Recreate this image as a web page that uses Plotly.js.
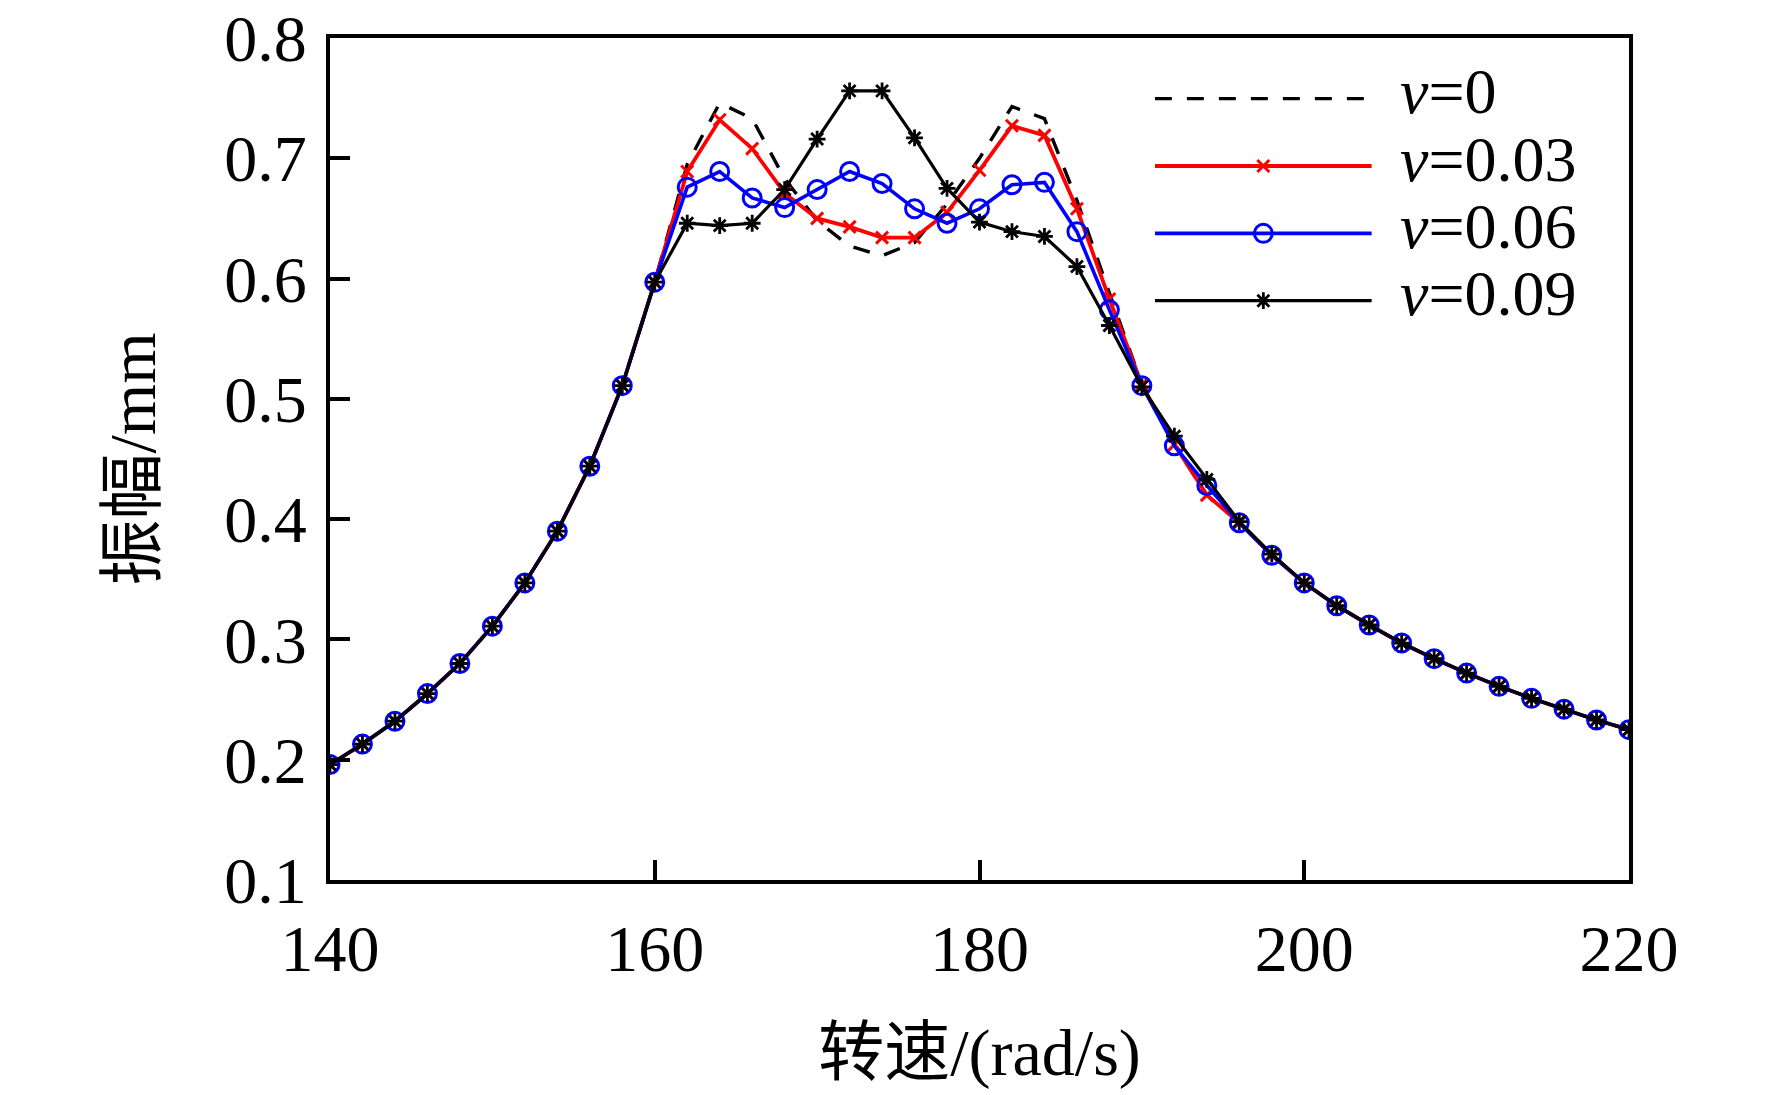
<!DOCTYPE html>
<html>
<head>
<meta charset="utf-8">
<script src="https://cdn.plot.ly/plotly-3.0.1.min.js"></script>
<style>
html,body{margin:0;padding:0;background:#fff;}
#chart{width:1772px;height:1095px;}
</style>
</head>
<body>
<div id="chart"></div>
<script>
// ---- data ----
const speed = [140,142,144,146,148,150,152,154,156,158,160,162,164,166,168,170,172,174,176,178,180,182,184,186,188,190,192,194,196,198,200,202,204,206,208,210,212,214,216,218,220];

const amp_v0 = [0.196,0.213,0.232,0.255,0.280,0.311,0.347,0.390,0.444,0.511,0.597,
  0.695,0.746,0.733,0.683,0.648,0.627,0.619,0.630,0.662,0.700,0.743,0.733,0.665,0.588,0.512,0.462,0.420,
  0.397,0.370,0.347,0.328,0.312,0.297,0.284,0.272,0.261,0.251,0.242,0.233,0.225];

const amp_v003 = [0.196,0.213,0.232,0.255,0.280,0.311,0.347,0.390,0.444,0.511,0.597,
  0.689,0.732,0.708,0.671,0.650,0.643,0.634,0.634,0.655,0.690,0.727,0.719,0.658,0.583,0.512,0.462,0.420,
  0.397,0.370,0.347,0.328,0.312,0.297,0.284,0.272,0.261,0.251,0.242,0.233,0.225];

const amp_v006 = [0.196,0.213,0.232,0.255,0.280,0.311,0.347,0.390,0.444,0.511,0.597,
  0.676,0.689,0.667,0.659,0.674,0.689,0.679,0.658,0.646,0.658,0.678,0.680,0.639,0.574,0.511,0.461,0.428,
  0.397,0.370,0.347,0.328,0.312,0.297,0.284,0.272,0.261,0.251,0.242,0.233,0.225];

const amp_v009 = [0.196,0.213,0.232,0.255,0.280,0.311,0.347,0.390,0.444,0.511,0.597,
  0.646,0.644,0.646,0.674,0.716,0.756,0.756,0.717,0.675,0.647,0.639,0.635,0.610,0.561,0.510,0.469,0.433,
  0.398,0.371,0.347,0.328,0.312,0.297,0.284,0.272,0.261,0.251,0.242,0.233,0.225];

const legendLabels = ['<i>v</i>=0','<i>v</i>=0.03','<i>v</i>=0.06','<i>v</i>=0.09'];
const xTicks = [140,160,180,200,220];
const yTicks = [0.1,0.2,0.3,0.4,0.5,0.6,0.7,0.8];

// ---- styles ----
const FONT = "'Liberation Serif','Times New Roman','Noto Sans CJK SC',serif";
const styles = [
  {line:{color:'#000',width:3.4,dash:'17px,15px'}, marker:null},
  {line:{color:'#ff0000',width:3.8}, marker:{symbol:'x-thin-open',size:12,color:'#ff0000',line:{color:'#ff0000',width:3}}},
  {line:{color:'#0000ff',width:3.6}, marker:{symbol:'circle-open',size:18,color:'#0000ff',line:{color:'#0000ff',width:3}}},
  {line:{color:'#000',width:3.2}, marker:{symbol:'asterisk-open',size:14,color:'#000',line:{color:'#000',width:2.8}}}
];
const series = [amp_v0, amp_v003, amp_v006, amp_v009];

const traces = series.map((ys,i)=>{
  const s = styles[i];
  const t = {x:speed, y:ys, type:'scatter', mode: s.marker ? 'lines+markers':'lines',
    line:s.line, showlegend:false, hoverinfo:'skip', xaxis:'x', yaxis:'y'};
  if (s.marker) t.marker = s.marker;
  return t;
});

// ---- custom legend (hidden axes) ----
const legRows = [0.928, 0.848, 0.768, 0.688];
const annotations = [];
styles.forEach((s,i)=>{
  traces.push({x:[0,1], y:[legRows[i],legRows[i]], type:'scatter', mode:'lines',
    line:s.line, xaxis:'x2', yaxis:'y2', showlegend:false, hoverinfo:'skip'});
  if (s.marker) traces.push({x:[0.5], y:[legRows[i]], type:'scatter', mode:'markers',
    marker:s.marker, xaxis:'x2', yaxis:'y2', showlegend:false, hoverinfo:'skip'});
  annotations.push({xref:'paper', yref:'paper', x:0.822, y:legRows[i]+0.008, xanchor:'left', yanchor:'middle',
    text:legendLabels[i], showarrow:false, font:{family:FONT, size:64, color:'#000'}});
});

const layout = {
  width:1772, height:1095,
  margin:{l:330, r:143, t:38, b:215, pad:0},
  paper_bgcolor:'#fff', plot_bgcolor:'rgba(0,0,0,0)',
  font:{family:FONT, color:'#000'},
  showlegend:false,
  xaxis:{range:[140,220], tickvals:xTicks, ticktext:xTicks.map(String),
    ticks:'inside', ticklen:20, tickwidth:4, tickcolor:'#000',
    showline:true, linewidth:4, linecolor:'#000', mirror:true,
    showgrid:false, zeroline:false, ticklabelstandoff:8, ticklabeloverflow:'allow',
    tickfont:{family:FONT, size:66, color:'#000'},
    title:{text:'转速/(rad/s)', standoff:46, font:{family:FONT, size:66, color:'#000'}}},
  yaxis:{range:[0.1,0.8], tickvals:yTicks, ticktext:yTicks.map(v=>v.toFixed(1)),
    ticks:'inside', ticklen:20, tickwidth:4, tickcolor:'#000',
    showline:true, linewidth:4, linecolor:'#000', mirror:true,
    showgrid:false, zeroline:false, ticklabelstandoff:6, ticklabeloverflow:'allow',
    tickfont:{family:FONT, size:66, color:'#000'},
    title:{text:'振幅/mm', standoff:48, font:{family:FONT, size:66, color:'#000'}}},
  xaxis2:{domain:[0.635,0.802], range:[0,1], visible:false, fixedrange:true, anchor:'y2'},
  yaxis2:{domain:[0,1], range:[0,1], visible:false, fixedrange:true, anchor:'x2'},
  annotations:annotations
};

Plotly.newPlot('chart', traces, layout, {displayModeBar:false, staticPlot:true});
</script>
</body>
</html>
